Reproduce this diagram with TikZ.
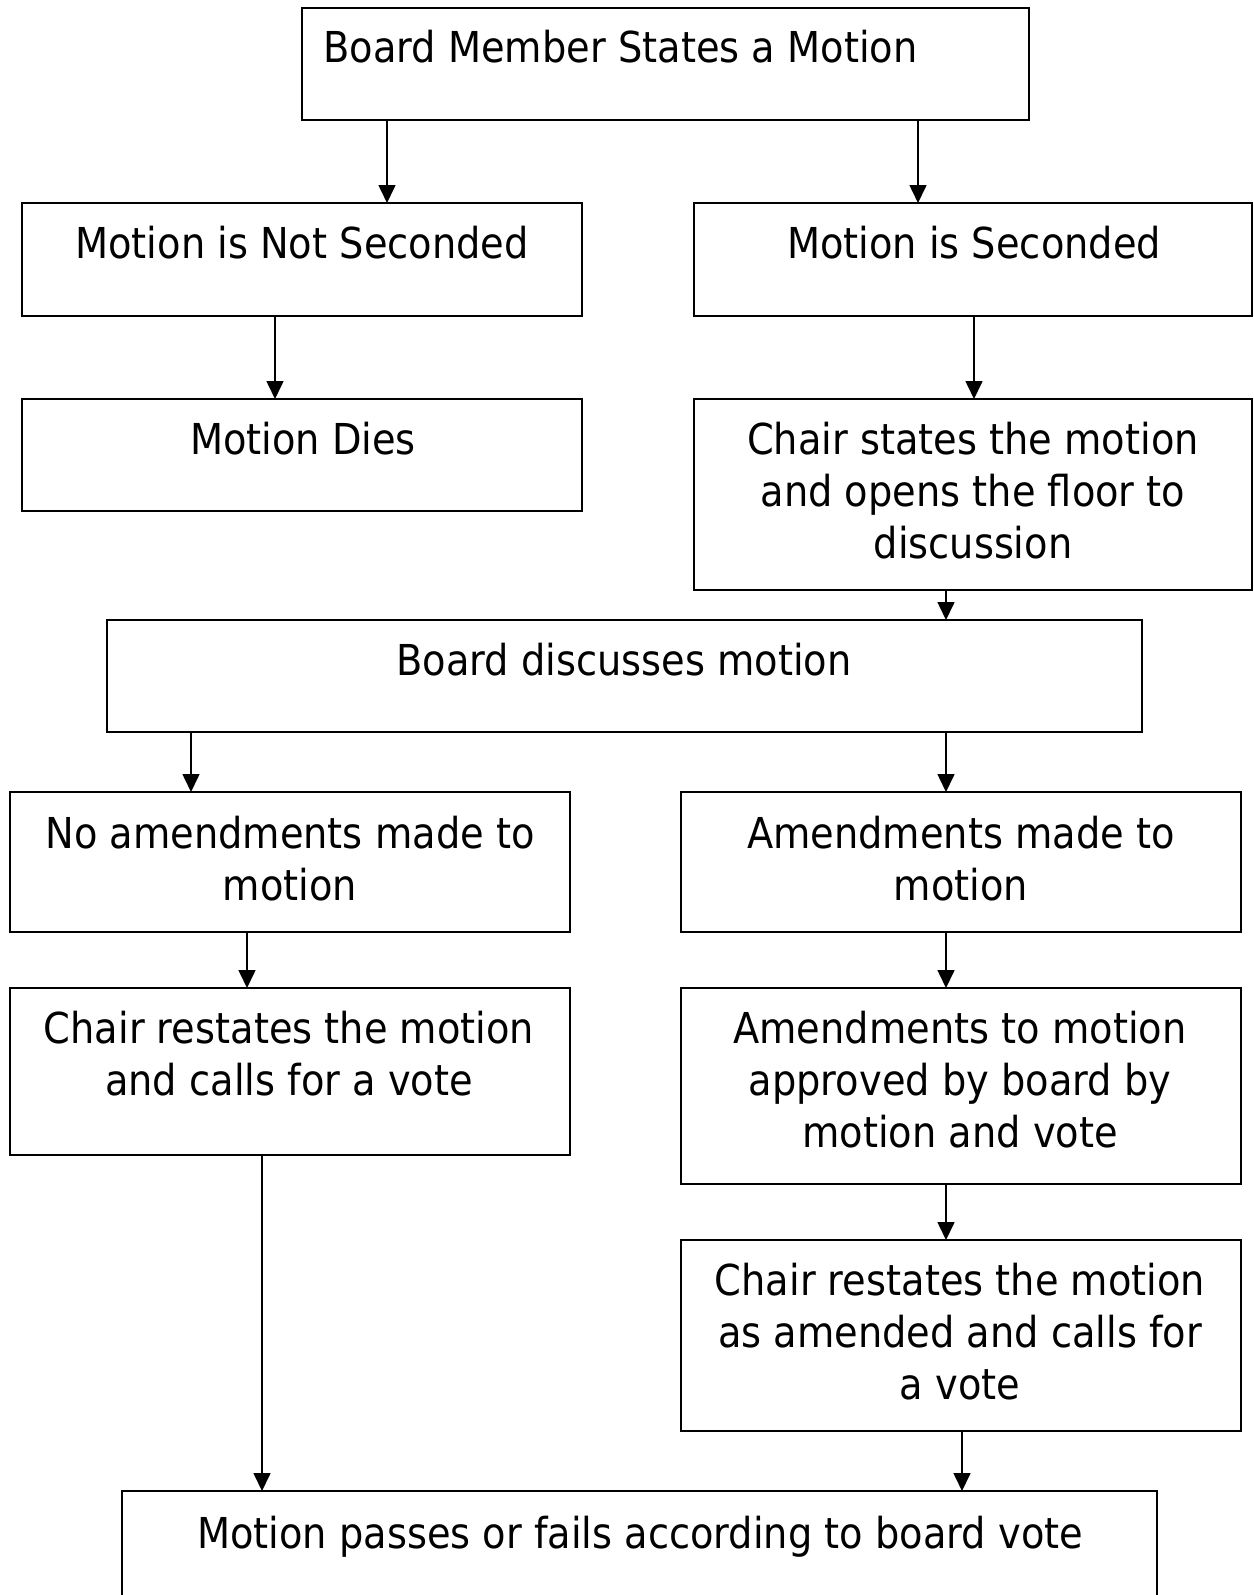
\documentclass[tikz,border=0pt]{standalone}
\usepackage{fontspec}
\setmainfont{DejaVu Sans}[FakeStretch=0.9]
\usetikzlibrary{arrows.meta}
\newcommand\flowbox[5]{\node[box, minimum width={(#4-#2)*0.5pt}, minimum height={(#5-#3)*0.5pt}] (#1) at ({(#2+#4)/2},{(#3+#5)/2}) {};}
\begin{document}
\begin{tikzpicture}[x=0.5pt,y=-0.5pt,
  box/.style={draw=black, line width=0.75pt, inner sep=0pt, outer sep=0pt},
  txt/.style={font=\fontsize{21.3pt}{26pt}\selectfont, align=center, inner sep=0pt, anchor=base},
  arr/.style={line width=0.8pt, -{Triangle[width=8.5pt,length=9pt]}}]
\useasboundingbox (0,0) rectangle (1253,1595);
\fill[white] (0,0) rectangle (1253,1595);
\clip (0,0) rectangle (1253,1595);
% boxes
\flowbox{b1}{302}{8}{1029}{120}
\flowbox{ns}{22}{203}{582}{316}
\flowbox{sec}{694}{203}{1252}{316}
\flowbox{dies}{22}{399}{582}{511}
\flowbox{cs}{694}{399}{1252}{590}
\flowbox{bd}{107}{620}{1142}{732}
\flowbox{na}{10}{792}{570}{932}
\flowbox{am}{681}{792}{1241}{932}
\flowbox{cr}{10}{988}{570}{1155}
\flowbox{aa}{681}{988}{1241}{1184}
\flowbox{ca}{681}{1240}{1241}{1431}
\flowbox{fin}{122}{1491}{1157}{1640}
% texts (anchor base = baseline of the last line)
\node[txt, anchor=base west] (t-b1) at (323,63) {Board Member States a Motion};
\node[txt] (t-ns) at (302,258) {Motion is Not Seconded};
\node[txt] (t-sec) at (974,258) {Motion is Seconded};
\node[txt] (t-dies) at (303,454) {Motion Dies};
\node[txt] (t-cs) at (973,558) {Chair states the motion\\and opens the floor to\\discussion};
\node[txt] (t-bd) at (624,675) {Board discusses motion};
\node[txt] (t-na) at (290,900) {No amendments made to\\motion};
\node[txt] (t-am) at (961,900) {Amendments made to\\motion};
\node[txt] (t-cr) at (289,1095) {Chair restates the motion\\and calls for a vote};
\node[txt] (t-aa) at (960,1147) {Amendments to motion\\approved by board by\\motion and vote};
\node[txt] (t-ca) at (960,1399) {Chair restates the motion\\as amended and calls for\\a vote};
\node[txt] (t-fin) at (640,1548) {Motion passes or fails according to board vote};
% arrow columns
\coordinate (xa) at (387,0);
\coordinate (xb) at (918,0);
\coordinate (xc) at (275,0);
\coordinate (xd) at (974,0);
\coordinate (xe) at (946,0);
\coordinate (xf) at (191,0);
\coordinate (xg) at (247,0);
\coordinate (xh) at (262,0);
\coordinate (xi) at (962,0);
% connectors
\draw[arr] (b1.south -| xa) -- (ns.north -| xa);
\draw[arr] (b1.south -| xb) -- (sec.north -| xb);
\draw[arr] (ns.south -| xc) -- (dies.north -| xc);
\draw[arr] (sec.south -| xd) -- (cs.north -| xd);
\draw[arr] (cs.south -| xe) -- (bd.north -| xe);
\draw[arr] (bd.south -| xf) -- (na.north -| xf);
\draw[arr] (bd.south -| xe) -- (am.north -| xe);
\draw[arr] (na.south -| xg) -- (cr.north -| xg);
\draw[arr] (am.south -| xe) -- (aa.north -| xe);
\draw[arr] (aa.south -| xe) -- (ca.north -| xe);
\draw[arr] (cr.south -| xh) -- (fin.north -| xh);
\draw[arr] (ca.south -| xi) -- (fin.north -| xi);
\end{tikzpicture}
\end{document}
